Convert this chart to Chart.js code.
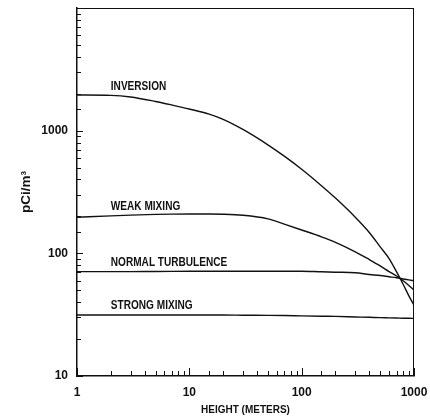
<!DOCTYPE html>
<html>
<head>
<meta charset="utf-8">
<script src="https://cdn.jsdelivr.net/npm/chart.js@4/dist/chart.umd.min.js"></script>
<style>
  html, body { margin: 0; padding: 0; background: #fff; }
  #wrap { width: 430px; height: 418px; }
</style>
</head>
<body>
<div id="wrap"><canvas id="profile" width="430" height="418"></canvas></div>
<script>
/** heights above ground, metres */
const heights = [1, 2, 3, 5, 7, 10, 15, 20, 30, 50, 70, 100, 150, 200, 300, 400, 500, 600, 700, 800, 900, 1000];
/** concentration for each stability class, pCi/m3 */
const inversion = [1955, 1941, 1883, 1730, 1619, 1502, 1364, 1237, 1023, 767, 620, 485, 356, 282, 197, 148, 113, 90.5, 70.5, 56, 45, 37.8];
const weakMixing = [197, 202, 205, 207.6, 208.8, 209.2, 209.2, 208.4, 204.2, 191, 173, 155, 136.4, 123, 103, 89, 79, 71, 65.3, 59.7, 54.6, 50.2];
const normalTurbulence = [71, 71, 71, 71.2, 71.3, 71.4, 71.5, 71.5, 71.5, 71.5, 71.5, 71.5, 70.7, 70.2, 69.4, 67.2, 65.9, 64.4, 63.2, 61.8, 60.7, 59.7];
const strongMixing = [31.4, 31.4, 31.4, 31.4, 31.4, 31.4, 31.4, 31.4, 31.3, 31.2, 31.1, 30.9, 30.7, 30.6, 30.3, 30.1, 29.9, 29.8, 29.7, 29.6, 29.55, 29.5];
/** curve names, written just above each line */
const seriesNames = ["INVERSION", "WEAK MIXING", "NORMAL TURBULENCE", "STRONG MIXING"];
/** labelled decades on each axis */
const xTickLabels = [1, 10, 100, 1000];
const yTickLabels = [10, 100, 1000];

const FONT = "'Liberation Sans', Arial, sans-serif";
const INK = "#111";

const isDecade = (v) => Math.abs(Math.log10(v) - Math.round(Math.log10(v))) < 1e-9;

const toPoints = (values) => values.map((v, i) => ({ x: heights[i], y: v }));

/** frame edges on top/right and tick marks pointing into the plot */
const frameAndTicks = {
    id: "frameAndTicks",
    afterDraw(chart) {
        const { ctx, chartArea: a, scales: { x, y } } = chart;
        ctx.save();
        ctx.strokeStyle = INK;
        ctx.lineWidth = 1;
        ctx.beginPath();
        ctx.moveTo(a.left, a.top + 0.5);
        ctx.lineTo(a.right, a.top + 0.5);
        ctx.moveTo(a.right - 0.5, a.top);
        ctx.lineTo(a.right - 0.5, a.bottom);
        x.ticks.forEach((t) => {
            const px = Math.round(x.getPixelForValue(t.value)) + 0.5;
            const len = isDecade(t.value) ? 8 : 5;
            ctx.moveTo(px, a.bottom);
            ctx.lineTo(px, a.bottom - len);
        });
        y.ticks.forEach((t) => {
            const py = Math.round(y.getPixelForValue(t.value)) + 0.5;
            const len = isDecade(t.value) ? 6 : 4;
            ctx.moveTo(a.left, py);
            ctx.lineTo(a.left + len, py);
        });
        ctx.stroke();
        ctx.restore();
    },
};

/** curve names placed over the second point of each line, lettering squeezed a bit */
const curveNames = {
    id: "curveNames",
    afterDatasetsDraw(chart) {
        const { ctx } = chart;
        chart.data.datasets.forEach((ds, i) => {
            const pt = chart.getDatasetMeta(i).data[1];
            ctx.save();
            ctx.translate(pt.x, pt.y - 3);
            ctx.scale(0.84, 1);
            ctx.fillStyle = INK;
            ctx.font = "bold 12px " + FONT;
            ctx.textAlign = "left";
            ctx.textBaseline = "bottom";
            ctx.fillText(ds.label, 0, 0);
            ctx.restore();
        });
    },
};

const lineStyle = {
    borderColor: INK,
    borderWidth: 1.4,
    pointRadius: 0,
    fill: false,
    cubicInterpolationMode: "monotone",
};

new Chart(document.getElementById("profile"), {
    type: "line",
    data: {
        datasets: [inversion, weakMixing, normalTurbulence, strongMixing].map((vals, i) => ({
            label: seriesNames[i],
            data: toPoints(vals),
            ...lineStyle,
        })),
    },
    options: {
        responsive: false,
        animation: false,
        layout: { padding: { top: 8, right: 16, left: 0, bottom: 0 } },
        plugins: { legend: { display: false }, tooltip: { enabled: false } },
        scales: {
            x: {
                type: "logarithmic",
                min: 1,
                max: 1000,
                grid: { display: false, drawTicks: false },
                border: { display: true, color: INK, width: 1.5 },
                afterFit: (s) => {
                    s.height = 42;
                    s.paddingLeft = 0;
                    s.paddingRight = 0;
                },
                ticks: {
                    autoSkip: false,
                    maxRotation: 0,
                    padding: 9,
                    color: INK,
                    font: { family: FONT, size: 12, weight: "bold" },
                    callback: (v) => (xTickLabels.includes(v) ? String(v) : ""),
                },
                title: {
                    display: true,
                    text: "HEIGHT (METERS)",
                    color: INK,
                    font: { family: FONT, size: 10, weight: "bold" },
                    padding: { top: 0, bottom: 2 },
                },
            },
            y: {
                type: "logarithmic",
                min: 10,
                max: 10000,
                grid: { display: false, drawTicks: false },
                border: { display: true, color: INK, width: 1.5 },
                afterFit: (s) => {
                    s.width = 77;
                    s.paddingTop = 0;
                    s.paddingBottom = 0;
                },
                ticks: {
                    autoSkip: false,
                    padding: 9,
                    color: INK,
                    font: { family: FONT, size: 12, weight: "bold" },
                    callback: (v) => (yTickLabels.includes(v) ? String(v) : ""),
                },
                title: {
                    display: true,
                    text: "pCi/m³",
                    color: INK,
                    font: { family: FONT, size: 13.5, weight: "bold" },
                    padding: { top: 18, bottom: 0 },
                },
            },
        },
    },
    plugins: [frameAndTicks, curveNames],
});
</script>
</body>
</html>
